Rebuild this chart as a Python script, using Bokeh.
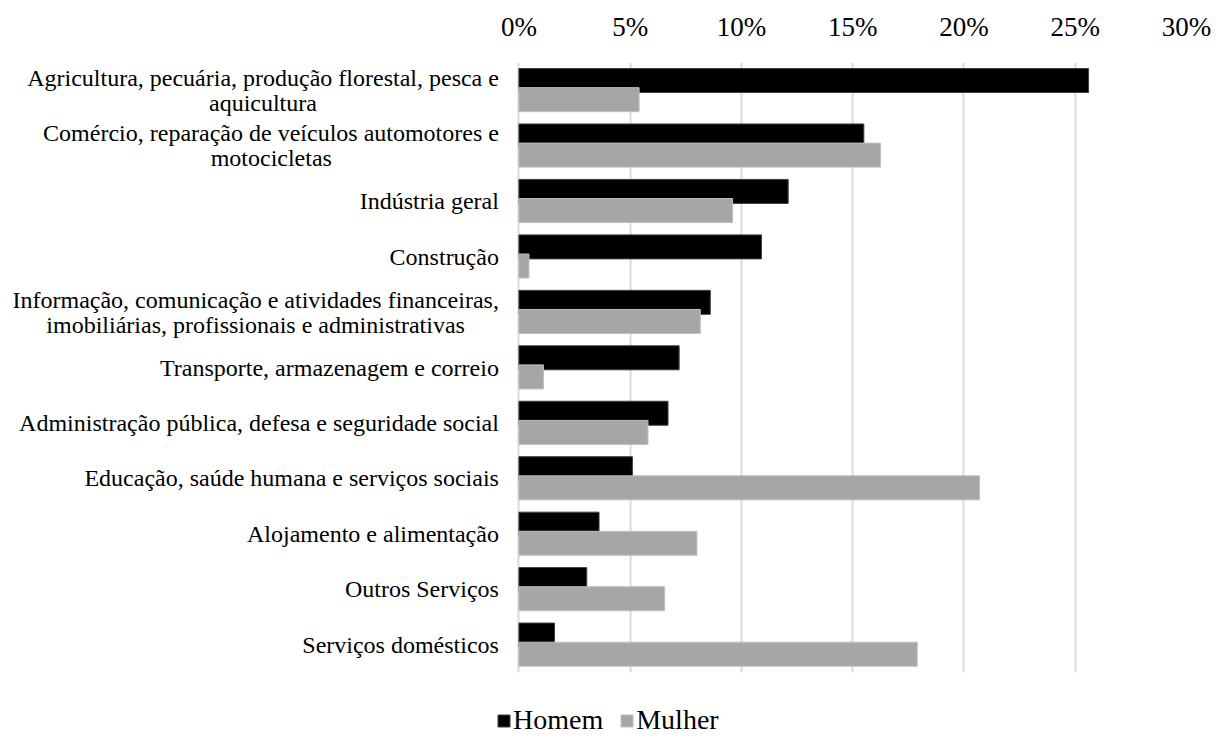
from bokeh.plotting import figure
from bokeh.layouts import column
from bokeh.models import (ColumnDataSource, FactorRange, Range1d, FixedTicker,
                          PrintfTickFormatter, Legend, LegendItem)
from bokeh.transform import dodge
from bokeh.core.properties import value
from bokeh.embed import file_html
from bokeh.resources import INLINE

# ---------------- data ----------------
categories = [
    "Agricultura, pecuária, produção florestal, pesca e\naquicultura",
    "Comércio, reparação de veículos automotores e\nmotocicletas",
    "Indústria geral",
    "Construção",
    "Informação, comunicação e atividades financeiras,\nimobiliárias, profissionais e administrativas",
    "Transporte, armazenagem e correio",
    "Administração pública, defesa e seguridade social",
    "Educação, saúde humana e serviços sociais",
    "Alojamento e alimentação",
    "Outros Serviços",
    "Serviços domésticos",
]
homem = [25.6, 15.5, 12.1, 10.9, 8.6, 7.2, 6.7, 5.1, 3.6, 3.05, 1.6]
mulher = [5.4, 16.25, 9.6, 0.45, 8.15, 1.1, 5.8, 20.7, 8.0, 6.55, 17.9]
x_ticks = [0, 5, 10, 15, 20, 25, 30]
series_names = ["Homem", "Mulher"]

# ---------------- styles ----------------
FONT = "Liberation Serif"
COL_H = "#000000"
COL_M = "#a6a6a6"
LINE_H = "#404040"
LINE_M = "#bfbfbf"
GRID = "#d9d9d9"
LABEL_GAP = 20          # px between labels and plot area
LINE_SPACING = 25       # px between lines of a two-line label
# horizontal shift (px) of each second line so that it is centred under the first
second_line_shift = {0: 182, 1: 167, 4: 34}
W, H = 1217, 738
LEG_H = 56

source = ColumnDataSource(dict(cat=categories, homem=homem, mulher=mulher))

p = figure(width=W, height=H - LEG_H, output_backend="svg", toolbar_location=None,
           y_range=FactorRange(factors=list(reversed(categories)), range_padding=0),
           x_range=Range1d(-518.3 / 22.247, 30),
           x_axis_location="above", y_axis_location=None,
           min_border_left=0, min_border_right=31, min_border_top=62,
           min_border_bottom=10)
p.outline_line_color = None
p.background_fill_color = "white"
p.border_fill_color = "white"

xa = p.xaxis[0]
xa.ticker = FixedTicker(ticks=x_ticks)
xa.formatter = PrintfTickFormatter(format="%d%%")
xa.axis_line_color = None
xa.major_tick_line_color = None
xa.minor_tick_line_color = None
xa.major_label_text_font = FONT
xa.major_label_text_font_size = "27px"
xa.major_label_text_color = "black"
xa.major_label_standoff = 15

p.xgrid.ticker = FixedTicker(ticks=x_ticks)
p.xgrid.grid_line_color = GRID
p.xgrid.grid_line_width = 2
p.ygrid.visible = False

p.hbar(y=dodge("cat", 0.175, range=p.y_range), left=0, right="homem",
       height=0.433, source=source, fill_color=COL_H,
       line_color=LINE_H, line_width=1)
p.hbar(y=dodge("cat", -0.17, range=p.y_range), left=0, right="mulher",
       height=0.433, source=source, fill_color=COL_M,
       line_color=LINE_M, line_width=1)

# category labels (drawn as text so two-line labels are centred like the original)
lab = dict(cat=[], text=[], xo=[], yo=[])
for i, c in enumerate(categories):
    lines = c.split("\n")
    n = len(lines)
    for j, t in enumerate(lines):
        lab["cat"].append(c)
        lab["text"].append(t)
        shift = second_line_shift.get(i, 0) if j == 1 else 0
        lab["xo"].append(-LABEL_GAP - shift)
        lab["yo"].append((j - (n - 1) / 2) * LINE_SPACING)
p.text(x=0, y="cat", text="text", source=ColumnDataSource(lab),
       x_offset="xo", y_offset="yo", text_align="right", text_baseline="middle",
       text_font=value(FONT), text_font_size="24px", text_color="black")

# ---------------- legend strip below the chart ----------------
pl = figure(width=W, height=LEG_H, output_backend="svg", toolbar_location=None,
            x_range=Range1d(0, W), y_range=Range1d(0, LEG_H),
            x_axis_location=None, y_axis_location=None,
            min_border_left=0, min_border_right=0, min_border_top=0,
            min_border_bottom=0)
pl.outline_line_color = None
pl.grid.visible = False
pl.border_fill_color = "white"
nan = float("nan")
lh = pl.hbar(y=[nan], right=[nan], height=1, fill_color=COL_H, line_color=LINE_H)
lm = pl.hbar(y=[nan], right=[nan], height=1, fill_color=COL_M, line_color=LINE_M)

legend = Legend(items=[LegendItem(label=series_names[0], renderers=[lh]),
                       LegendItem(label=series_names[1], renderers=[lm])],
                orientation="horizontal", location=(496, 2))
legend.label_text_font = FONT
legend.label_text_font_size = "28px"
legend.label_text_color = "black"
legend.glyph_width = 15
legend.glyph_height = 15
legend.label_standoff = 2
legend.spacing = 16
legend.padding = 0
legend.margin = 0
legend.border_line_color = None
legend.background_fill_alpha = 0
pl.add_layout(legend, "center")

layout = column(p, pl, spacing=0)
open("out.html", "w").write(file_html(layout, INLINE))
